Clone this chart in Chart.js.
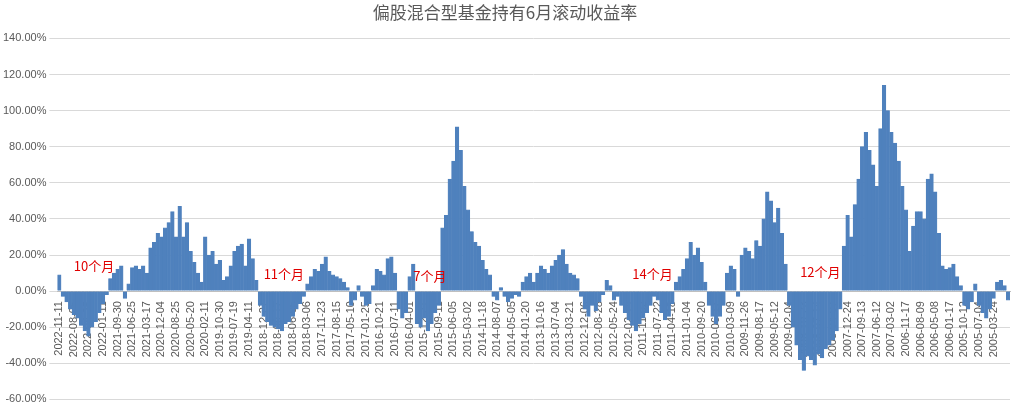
<!DOCTYPE html>
<html><head><meta charset="utf-8">
<script src="https://cdn.jsdelivr.net/npm/chart.js@4"></script>
<style>html,body{margin:0;padding:0;background:#fff}#w{width:1024px;height:409px}</style>
</head><body><div id="w"><canvas id="c"></canvas></div>
<script>
const tickLabels = ["2022-11-11","2022-08-05","2022-04-25","2022-01-11","2021-09-30","2021-06-25","2021-03-17","2020-12-04","2020-08-25","2020-05-20","2020-02-11","2019-10-30","2019-07-19","2019-04-11","2018-12-27","2018-09-17","2018-06-06","2018-03-06","2017-11-23","2017-08-15","2017-05-10","2017-01-25","2016-10-21","2016-07-11","2016-04-01","2015-12-21","2015-09-11","2015-06-05","2015-03-02","2014-11-18","2014-08-07","2014-05-05","2014-01-20","2013-10-16","2013-07-04","2013-03-21","2012-12-06","2012-08-28","2012-05-24","2012-02-14","2011-11-02","2011-07-22","2011-04-18","2011-01-04","2010-09-20","2010-06-17","2010-03-09","2009-11-26","2009-08-17","2009-05-12","2009-02-04","2008-10-23","2008-07-14","2008-04-07","2007-12-24","2007-09-13","2007-06-12","2007-03-02","2006-11-17","2006-08-09","2006-05-08","2006-01-17","2005-10-12","2005-07-04","2005-03-24"];
const returns = [9,-3,-6,-10,-13,-15,-19,-22,-25,-20,-17,-12,-7,-2,7,10,12,14,-4,4,
13,14,12,14,10,24,27,32,30,35,38,44,30,47,30,38,22,16,10,5,
30,20,22,15,17,6,8,14,22,25,26,14,29,18,6,-8,-14,-17,-19,-20,
-21,-22,-18,-17,-14,-10,-7,-3,4,8,12,11,15,19,11,9,8,7,5,2,
-8,-5,3,-3,-8,-7,3,12,11,9,18,19,10,-10,-15,-12,8,15,-18,-20,
-15,-22,-18,-12,-8,35,42,62,72,91,78,58,45,33,27,25,17,12,9,-3,
-5,2,-3,-6,-4,-2,-3,5,8,10,5,10,14,12,10,14,17,20,23,15,
10,9,7,-3,-10,-14,-8,-11,-6,-2,6,3,-5,-3,-8,-12,-16,-19,-22,-18,
-15,-12,-8,-3,-5,-12,-16,-14,-7,5,8,12,18,27,20,24,16,5,-8,-14,
-18,-14,-8,10,14,12,-3,20,24,22,18,28,25,40,55,50,38,46,32,15,
-8,-20,-30,-38,-44,-36,-38,-41,-35,-37,-32,-30,-27,-22,-10,25,42,30,48,62,
80,88,78,70,58,90,114,100,88,82,72,58,45,22,36,44,44,40,62,65,
55,32,14,12,13,15,8,3,-8,-10,-6,4,-8,-12,-15,-10,-4,5,6,3,-5];
const notes = [{t:"10个月",i:4,v:10},{t:"11个月",i:56,v:6},{t:"7个月",i:97,v:5},{t:"14个月",i:157,v:6},{t:"12个月",i:203,v:7}];
const labels = returns.map((v,i)=> i%4===0 && tickLabels[i/4] ? tickLabels[i/4] : "");
const notePlugin = {id:'notes',afterDatasetsDraw(ch){const {ctx,scales:{x,y}}=ch;ctx.save();ctx.fillStyle='#e00000';ctx.font='13px "Noto Sans CJK SC"';ctx.textBaseline='bottom';notes.forEach(n=>ctx.fillText(n.t,x.getPixelForValue(n.i),y.getPixelForValue(n.v)));ctx.restore();}};
new Chart(document.getElementById('c'),{type:'bar',
data:{labels,datasets:[{data:returns,backgroundColor:'#4f81bd',borderColor:'#4f81bd',borderWidth:0.6,barPercentage:1,categoryPercentage:1}]},
options:{responsive:true,maintainAspectRatio:false,animation:false,
layout:{padding:{right:14,top:0}},
plugins:{legend:{display:false},tooltip:{enabled:false},
title:{display:true,text:'偏股混合型基金持有6月滚动收益率',color:'#595959',font:{family:'"Noto Sans CJK SC"',size:17,weight:'normal'},padding:{top:2,bottom:16}}},
scales:{
x:{position:{y:0},grid:{display:false},border:{color:'#bfbfbf'},
ticks:{autoSkip:false,minRotation:90,maxRotation:90,color:'#595959',font:{family:'"Liberation Sans"',size:11},padding:2}},
y:{min:-60,max:140,grid:{color:'#d9d9d9'},border:{display:false},
ticks:{stepSize:20,color:'#595959',font:{family:'"Liberation Sans"',size:11},callback:v=>v.toFixed(2)+'%'}}}},
plugins:[notePlugin]});
</script></body></html>
